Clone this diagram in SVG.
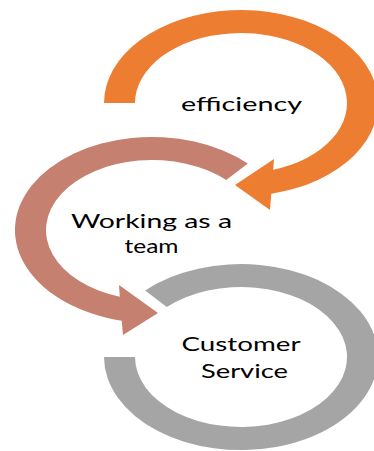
<svg xmlns="http://www.w3.org/2000/svg" width="374" height="451" viewBox="0 0 374 451">
<style>
.lbl{font-family:Lato,"Open Sans","Liberation Sans",sans-serif;fill:#000;}
.orange{fill:#ED7D31;}
.brown{fill:#C58070;}
.gray{fill:#A5A5A5;}
</style>
<rect width="374" height="451" fill="#fff"/>
<g id="node-efficiency">
<path class="orange" d="M104,103 A137 93 0 1 1 271.3,193.7 L270,210 L235,185 L274,159 L273.2,169.7 A106 70 0 1 0 135,103 Z"/>
<text class="lbl" x="181" y="110.5" font-size="20" textLength="121" lengthAdjust="spacingAndGlyphs">efficiency</text>
</g>
<g id="node-team">
<path class="brown" d="M247.9,163.6 A137 93 0 1 0 121.7,320.7 L123,335 L158,313 L119,285 L119.8,296.7 A106 70 0 1 1 226.2,180 Z"/>
<text class="lbl" x="71" y="228.3" font-size="20" textLength="161" lengthAdjust="spacingAndGlyphs">Working as a</text>
<text class="lbl" x="124.5" y="252.5" font-size="20" textLength="54" lengthAdjust="spacingAndGlyphs">team</text>
</g>
<g id="node-customer">
<path class="gray" d="M104,357 A137 93 0 1 0 145.1,290.6 L166.8,307 A106 70 0 1 1 135,357 Z"/>
<text class="lbl" x="181.5" y="350.7" font-size="19" textLength="119" lengthAdjust="spacingAndGlyphs">Customer</text>
<text class="lbl" x="201" y="377.5" font-size="19" textLength="87" lengthAdjust="spacingAndGlyphs">Service</text>
</g>
<g id="connectors"></g>
</svg>
